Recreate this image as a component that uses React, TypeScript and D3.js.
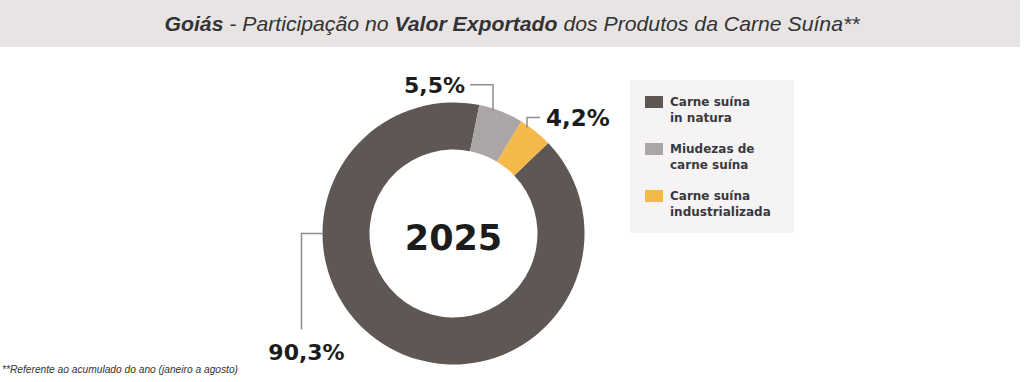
import React from "react";
import * as d3 from "d3";

const categories = ["Carne suína in natura", "Miudezas de carne suína", "Carne suína industrializada"];
const legendLines = [["Carne suína", "in natura"], ["Miudezas de", "carne suína"], ["Carne suína", "industrializada"]];
const values = [90.3, 5.5, 4.2];
const valueLabels = ["90,3%", "5,5%", "4,2%"];
const colors = ["#5e5753", "#aba6a5", "#f4b94a"];
const centerLabel = "2025";

export default function App() {
  const W = 1024, H = 382;
  const cx = 453.5, cy = 233.5, rOuter = 131, rInner = 84;
  const start = (46.3 * Math.PI) / 180;
  const pie = d3.pie<number>().sort(null).startAngle(start).endAngle(start + 2 * Math.PI);
  const arcs = pie(values);
  const arc = d3.arc<d3.PieArcDatum<number>>().innerRadius(rInner).outerRadius(rOuter);
  const pt = (a: number, r: number) => [cx + r * Math.sin(a), cy - r * Math.cos(a)];

  const mid = (d: d3.PieArcDatum<number>) => (d.startAngle + d.endAngle) / 2;
  const leaders = arcs.map((d, i) => {
    if (i === 0) {
      const a = (270 * Math.PI) / 180 + 2 * Math.PI;
      const [x, y] = pt(a, rOuter);
      return { pts: [[x, y], [x - 21, y], [x - 21, y + 96]], tx: x - 16, ty: y + 126, anchor: "middle", fs: 22 };
    }
    if (i === 1) {
      const [x, y] = pt(mid(d) - 0.06, rOuter - 2);
      return { pts: [[x, y], [x, y - 26], [x - 23, y - 26]], tx: x - 28, ty: y - 18, anchor: "end", fs: 22 };
    }
    const [x, y] = pt(mid(d) - 0.07, rOuter - 2);
    return { pts: [[x, y], [x, y - 10], [x + 13, y - 10]], tx: x + 19, ty: y - 1, anchor: "start", fs: 23 };
  });

  return (
    <svg width={W} height={H} style={{ position: "absolute", left: 0, top: 0 }}>
      <rect x={0} y={0} width={1020} height={47} fill="#e8e4e4" />
      <text x={512} y={31} textAnchor="middle" fontFamily="'Liberation Sans Narrow', 'Liberation Sans', sans-serif" fontStyle="italic" fontSize={21} fill="#333" textLength={695} lengthAdjust="spacingAndGlyphs">
        <tspan fontWeight="bold">Goiás</tspan>
        <tspan> - Participação no </tspan>
        <tspan fontWeight="bold">Valor Exportado</tspan>
        <tspan> dos Produtos da Carne Suína**</tspan>
      </text>

      {arcs.map((d, i) => (
        <path key={categories[i]} d={arc(d) || ""} transform={`translate(${cx},${cy})`} fill={colors[i]} />
      ))}
      <text x={cx} y={cy + 16} textAnchor="middle" fontFamily="'DejaVu Sans', sans-serif" fontWeight="bold" fontSize={35} fill="#1c1c1c">{centerLabel}</text>

      {leaders.map((l, i) => (
        <g key={i}>
          <polyline points={l.pts.map((p) => p.join(",")).join(" ")} fill="none" stroke="#8d8d95" strokeWidth={1.5} />
          <text x={l.tx} y={l.ty} textAnchor={l.anchor as any} fontFamily="'DejaVu Sans', sans-serif" fontWeight="bold" fontSize={l.fs} fill="#1c1c1c">{valueLabels[i]}</text>
        </g>
      ))}

      <rect x={630} y={80} width={164} height={153} fill="#f5f3f3" />
      {legendLines.map((lines, i) => (
        <g key={i} transform={`translate(0,${i * 47})`}>
          <rect x={645} y={96} width={18} height={12} fill={colors[i]} />
          {lines.map((t, j) => (
            <text key={j} x={670} y={106 + j * 15.5} fontFamily="'DejaVu Sans', sans-serif" fontWeight="bold" fontSize={12} fill="#3a383c">{t}</text>
          ))}
        </g>
      ))}

      <text x={2} y={373} fontFamily="'Liberation Sans Narrow', 'Liberation Sans', sans-serif" fontStyle="italic" fontSize={11} fill="#333" textLength={236} lengthAdjust="spacingAndGlyphs">**Referente ao acumulado do ano (janeiro a agosto)</text>
    </svg>
  );
}
